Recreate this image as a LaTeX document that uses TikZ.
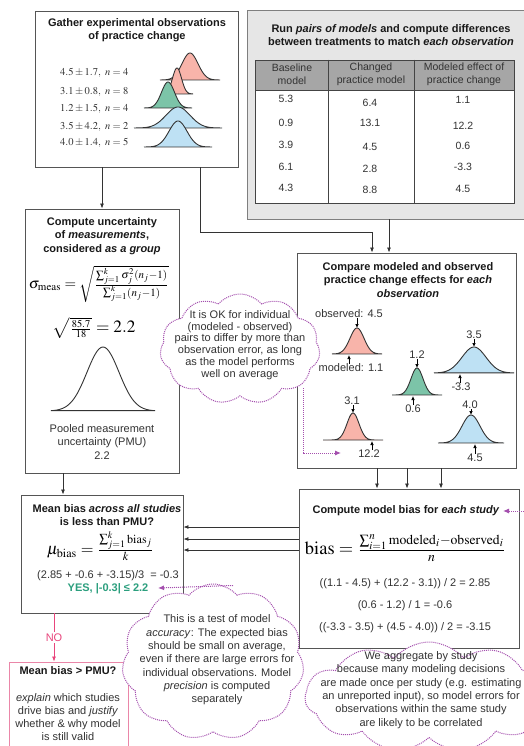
\documentclass[tikz,border=0pt]{standalone}
\usepackage{graphicx}
\usepackage{mathptmx}
\usepackage[no-math]{fontspec}
\setmainfont{Liberation Sans}
\usetikzlibrary{arrows.meta,positioning,calc,shapes.symbols}
\definecolor{boxgrey}{HTML}{555555}
\definecolor{linegrey}{HTML}{333333}
\definecolor{textgrey}{HTML}{333333}
\definecolor{panelgrey}{HTML}{E6E6E6}
\definecolor{panelborder}{HTML}{7F7F7F}
\definecolor{tablehead}{HTML}{A6A6A6}
\definecolor{tableline}{HTML}{444444}
\definecolor{obspink}{HTML}{F8B4AA}
\definecolor{obsgreen}{HTML}{7CC4A8}
\definecolor{obsblue}{HTML}{BEE1F4}
\definecolor{curveline}{HTML}{333333}
\definecolor{notepurple}{HTML}{A44FAE}
\definecolor{nopink}{HTML}{E8457C}
\definecolor{pmupinkline}{HTML}{EA86A8}
\definecolor{yesgreen}{HTML}{2C9F7E}

% bell: centre x, baseline y, half extent, sigma, height, fill
\newcommand{\bellcurve}[6]{%
  \draw[curve, fill=#6] plot[domain=-#3:#3, samples=60, smooth]
    ({#1+\x}, {#2-#5*exp(-0.5*(\x/#4)^2)}) -- cycle;}
% formula set to a given width
\newcommand{\eqwidth}[2]{\resizebox{#1}{!}{$#2$}}

\begin{document}
\begin{tikzpicture}[
        x=1pt, y=-1pt,
        box/.style={draw=boxgrey, line width=0.9pt, fill=white, inner sep=0pt},
        txt/.style={align=center, inner sep=0pt, text=textgrey, font=\fontsize{11}{13.5}\selectfont},
        ttl/.style={align=center, inner sep=0pt, text=black!90, font=\fontsize{11}{13.5}\selectfont\bfseries},
        cell/.style={align=center, inner sep=0pt, text=textgrey, font=\fontsize{10.5}{13}\selectfont},
        formula/.style={inner sep=0pt, text=black},
        arr/.style={draw=linegrey, line width=0.8pt, -{Latex[length=5pt,width=4pt]}},
        tick/.style={draw=black, line width=0.7pt, -{Latex[length=4pt,width=3.5pt]}},
        curve/.style={draw=curveline, line width=0.9pt},
        note/.style={draw=notepurple, line width=1pt, densely dotted, -{Latex[length=6pt,width=5pt]}},
        cloudnote/.style={cloud, cloud puffs=11, cloud puff arc=100, cloud ignores aspect,
            draw=notepurple, line width=1pt, densely dotted, fill=white, inner sep=0pt}
    ]
        \useasboundingbox (0,0) rectangle (524,746);
        \clip (0,0) rectangle (524,746);

        % Gather observations
        \node[box, minimum width=203pt, minimum height=156pt] (gather) at (136.5,89) {};
        \node[ttl] (gatherTitle) at (137,30) {Gather experimental observations\\of practice change};
        \foreach \y/\m/\s/\n [count=\i] in {73/4.5/1.7/4, 92/3.1/0.8/8, 109/1.2/1.5/4, 127/3.5/4.2/2, 143/4.0/1.4/5}
            \node[formula, anchor=west, text=textgrey, font=\fontsize{10.5}{12}\selectfont] (obs\i) at (60,\y) {$\m \pm \s,\ n = \n$};
        \bellcurve{190}{80}{30}{8}{27}{obspink}
        \bellcurve{177}{94}{16}{4.5}{26}{obspink}
        \bellcurve{168}{108}{24}{6.5}{26}{obsgreen}
        \bellcurve{178}{128}{44}{12}{21}{obsblue}
        \bellcurve{178}{147}{34}{9}{26}{obsblue}

        % Model pairs panel
        \node[box, draw=panelborder, fill=panelgrey, minimum width=283pt, minimum height=209pt] (runBox) at (388.5,114.5) {};
        \node[ttl] (runTitle) at (391,35) {Run \textit{pairs of models} and compute differences\\between treatments to match \textit{each observation}};
        \node[draw=tableline, line width=0.8pt, fill=tablehead, minimum width=259pt, minimum height=30pt, inner sep=0pt] (tblHead) at (384.5,75) {};
        \node[draw=tableline, line width=0.8pt, fill=white, minimum width=259pt, minimum height=113pt, inner sep=0pt] (tblBody) at (384.5,146.5) {};
        \foreach \x in {328,414}
            \draw[tableline, line width=0.8pt] (\x,0 |- tblHead.north) -- (\x,0 |- tblBody.south);
        \node[cell] (hdBase) at (292,74) {Baseline\\model};
        \node[cell] (hdChg) at (371,74) {Changed\\practice model};
        \node[cell] (hdEff) at (464,74) {Modeled effect of\\practice change};
        \foreach \ya/\a/\yb/\b/\yc/\c [count=\r] in {99/5.3/103/6.4/100/1.1, 123/0.9/123/13.1/126/12.2,
                145/3.9/147/4.5/146/0.6, 167/6.1/169/2.8/167/-3.3, 188/4.3/190/8.8/189/4.5} {
            \node[cell] (base\r) at (286,\ya) {\a};
            \node[cell] (chg\r) at (370,\yb) {\b};
            \node[cell] (eff\r) at (463,\yc) {\c};
        }

        % Compare modeled and observed
        \node[box, minimum width=219pt, minimum height=215pt] (compare) at (406.5,360.5) {};
        \node[ttl] (cmpTitle) at (408,280) {Compare modeled and observed\\practice change effects for \textit{each}\\\textit{observation}};
        \bellcurve{357}{354}{25}{7}{26}{obspink}
        \node[txt] (obsA) at (349,314) {observed: 4.5};
        \node[txt] (modA) at (351,368) {modeled: 1.1};
        \coordinate (peakA) at (357,328);
        \coordinate (baseA) at (349,355);
        \bellcurve{417}{395}{25}{6}{27}{obsgreen}
        \node[txt] (obsB) at (417,355) {1.2};
        \node[txt] (modB) at (413,409) {0.6};
        \coordinate (peakB) at (417,368);
        \coordinate (baseB) at (413,396);
        \bellcurve{474}{373}{40}{12}{26}{obsblue}
        \node[txt] (obsC) at (474,335) {3.5};
        \node[txt] (modC) at (461,387) {-3.3};
        \coordinate (peakC) at (474,347);
        \coordinate (baseC) at (460,374);
        \bellcurve{353}{440}{30}{6}{27}{obspink}
        \node[txt] (obsD) at (352,401) {3.1};
        \node[txt] (modD) at (369,454) {12.2};
        \coordinate (peakD) at (353,413);
        \coordinate (baseD) at (372,441);
        \bellcurve{471}{443}{33}{9}{28}{obsblue}
        \node[txt] (obsE) at (470,405) {4.0};
        \node[txt] (modE) at (475,458) {4.5};
        \coordinate (peakE) at (471,415);
        \coordinate (baseE) at (475,444);
        \foreach \k in {A,B,C,D,E} {
            \draw[tick] (peak\k |- obs\k.south) -- (peak\k);
            \draw[tick] (base\k |- mod\k.north) -- (base\k);
        }

        % Measurement uncertainty
        \node[box, minimum width=154pt, minimum height=264pt] (uncert) at (102,341) {};
        \node[ttl] (uncTitle) at (102,236) {Compute uncertainty\\of \textit{measurements},\\considered \textit{as a group}};
        \node[formula] (sigmaEq) at (99,284)
            {\eqwidth{140pt}{\sigma_{\mathrm{meas}} = \sqrt{\frac{\sum_{j=1}^{k}\sigma_j^2(n_j-1)}{\sum_{j=1}^{k}(n_j-1)}}}};
        \node[formula] (pmuEq) at (94,328) {\eqwidth{83pt}{\sqrt{\scriptstyle\frac{85.7}{18}} = 2.2}};
        \bellcurve{103}{411}{52}{16}{64}{white}
        \node[txt] (pmuTxt) at (102,442) {Pooled measurement\\uncertainty (PMU)\\2.2};

        % Mean bias test
        \node[box, minimum width=162pt, minimum height=118pt] (meanBias) at (102,554) {};
        \node[ttl] (meanTitle) at (107,515) {Mean bias \textit{across all studies}\\is less than PMU?};
        \node[formula] (muEq) at (100.5,546) {\eqwidth{107pt}{\mu_{\mathrm{bias}} = \frac{\sum_{j=1}^{k}\mathrm{bias}_j}{k}}};
        \node[txt] (meanCalc) at (108,576) {(2.85 + -0.6 + -3.15)/3 \ = -0.3};
        \node[ttl, text=yesgreen] (yesTxt) at (108,589) {YES, |-0.3| ≤ 2.2};

        % Bias per study
        \node[box, minimum width=220pt, minimum height=159pt] (studyBias) at (409,568.5) {};
        \node[ttl] (studyTitle) at (406,511) {Compute model bias for \textit{each study}};
        \node[formula] (biasEq) at (405.5,548)
            {\eqwidth{201pt}{\mathrm{bias} = \frac{\sum_{i=1}^{n}\mathrm{modeled}_i - \mathrm{observed}_i}{n}}};
        \node[txt] (calcA) at (405,584) {((1.1 - 4.5) + (12.2 - 3.1)) / 2 = 2.85};
        \node[txt] (calcB) at (405,606) {(0.6 - 1.2) / 1 = -0.6};
        \node[txt] (calcC) at (405,628) {((-3.3 - 3.5) + (4.5 - 4.0)) / 2 = -3.15};

        % Mean bias above PMU
        \node[box, draw=pmupinkline, minimum width=119pt, minimum height=110pt] (pmuBox) at (68.5,717) {};
        \node[ttl] (pmuTitle) at (68,671) {Mean bias > PMU?};
        \node[txt, font=\fontsize{11}{13}\selectfont] (pmuBody) at (68,717.5) {\textit{explain} which studies\\drive bias and \textit{justify}\\whether \& why model\\is still valid};

        % Flow
        \draw[arr] (uncert.north |- gather.south) -- (uncert.north);
        \draw[arr] (200,0 |- gather.south) -- (200,232) -| (372,0 |- compare.north);
        \draw[arr] (389,0 |- runBox.south) -- (389,0 |- compare.north);
        \draw[arr] (63,0 |- uncert.south) -- (63,0 |- meanBias.north);
        \foreach \x in {377,407,441}
            \draw[arr] (\x,0 |- compare.south) -- (\x,0 |- studyBias.north);
        \foreach \y in {527,539,550}
            \draw[arr] (studyBias.west |- 0,\y) -- (meanBias.east |- 0,\y);
        \draw[draw=nopink, line width=0.8pt, -{Latex[length=5pt,width=4pt]}] (54,0 |- meanBias.south)
            -- node[txt, text=nopink, fill=white, inner sep=1.5pt] (noLbl) {NO} (54,0 |- pmuBox.north);

        % Notes
        \node[cloudnote, minimum width=160pt, minimum height=110pt] (okNote) at (240,349) {};
        \node[txt, font=\fontsize{11}{11.8}\selectfont] (okText) at (240,345)
            {It is OK for individual\\(modeled - observed)\\pairs to differ by more than\\observation error, as long\\as the model performs\\well on average};
        \node[cloudnote, minimum width=182pt, minimum height=156pt] (accNote) at (213,662) {};
        \node[txt, font=\fontsize{11}{13.3}\selectfont] (accText) at (217,660)
            {This is a test of model\\\textit{accuracy}: The expected bias\\should be small on average,\\even if there are large errors for\\individual observations. Model\\\textit{precision} is computed\\separately};
        \node[cloudnote, minimum width=248pt, minimum height=110pt] (aggNote) at (429,697) {};
        \node[txt, font=\fontsize{11}{13.4}\selectfont] (aggText) at (421,690)
            {We aggregate by study\\because many modeling decisions\\are made once per study (e.g. estimating\\an unreported input), so model errors for\\observations within the same study\\are likely to be correlated};
        \coordinate (okTip) at (341,453);
        \coordinate (yesTip) at (158,588);
        \coordinate (aggTip) at (503,511);
        \draw[note] ($(okNote.south)+(63,-8)$) |- (okTip);
        \draw[note] ($(accNote.north)+(20,2)$) -- (yesTip);
        \draw[note] (aggNote.east) |- (aggTip);
    \end{tikzpicture}
\end{document}
